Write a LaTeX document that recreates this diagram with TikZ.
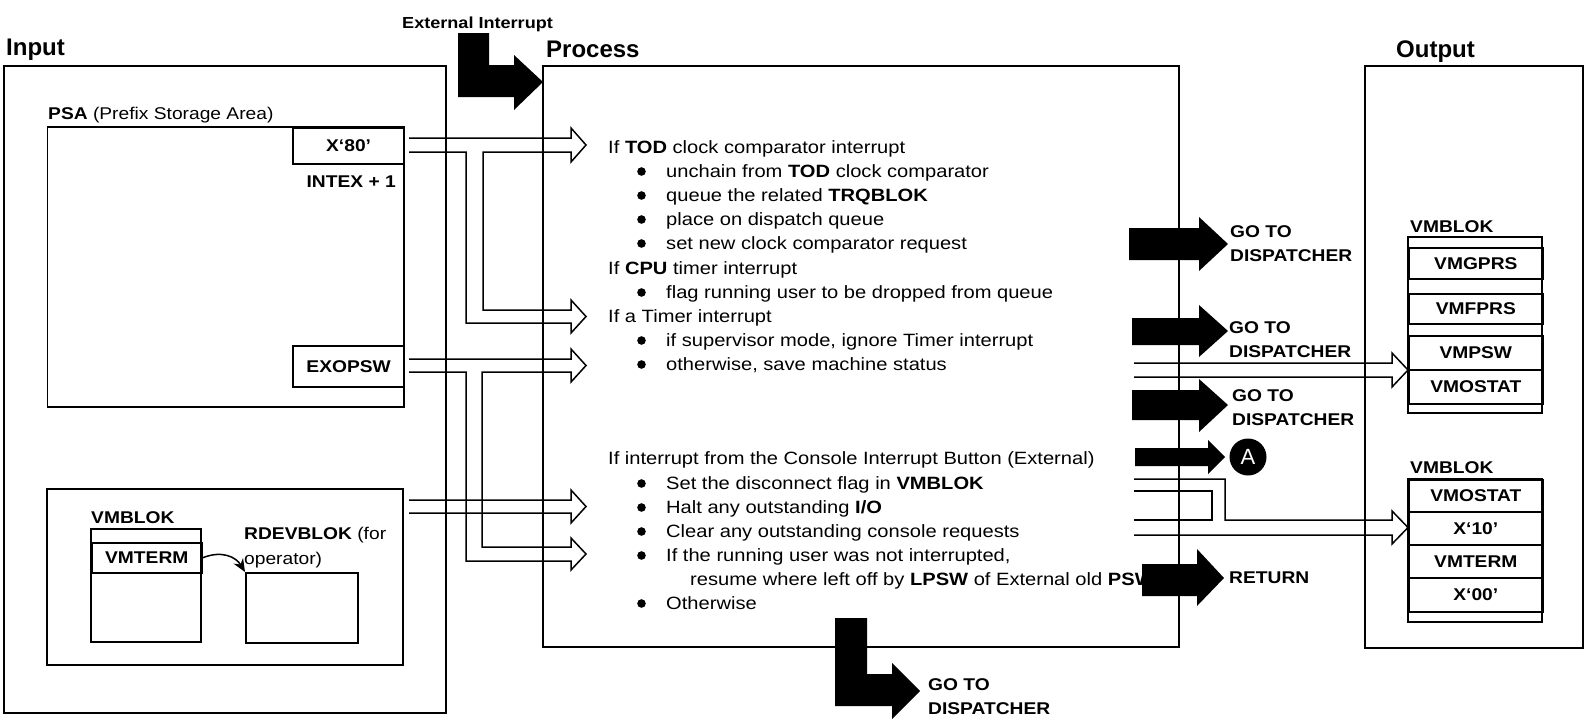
\documentclass[tikz,border=0pt]{standalone}
\usepackage{fontspec}
\setmainfont{Liberation Sans}
\newfontfamily\procfont{Liberation Sans}[FakeStretch=1.13]
\usetikzlibrary{arrows.meta}
\newcommand{\txtfont}{\procfont\fontsize{17.8}{24}\selectfont}
\newcommand{\lblfont}{\procfont\fontsize{17}{24}\selectfont}
\newcommand{\ttlfont}{\fontsize{24}{26}\selectfont\bfseries}

\begin{document}
\begin{tikzpicture}[
    x=1pt, y=-1pt,
    % Box Styles
    boxline/.style={draw, line width=1.8pt},
    cell/.style={rectangle, draw, line width=1.6pt, anchor=north west, inner sep=0pt, font=\lblfont\bfseries},
    heading/.style={anchor=base west, inner sep=0pt, font=\ttlfont},
    proc/.style={anchor=base west, inner sep=0pt, font=\txtfont},
    lbl/.style={anchor=west, inner sep=0pt, align=left, font=\lblfont\bfseries},
    % Arrow Styles
    hollow/.style={draw, line width=1.5pt, line join=miter},
    blackarrow/.style={fill=black},
    ptr/.style={line width=1.5pt, -{Stealth[length=13pt,width=11pt]}}
]
    \useasboundingbox (0,0) rectangle (1588,720);

    % =========================================================================
    % HEADINGS
    % =========================================================================
    \node[heading] (intitle)   at (6,55)    {Input};
    \node[heading] (proctitle) at (546,57)  {Process};
    \node[heading] (outtitle)  at (1396,57) {Output};
    \node[anchor=base west, inner sep=0pt, font=\procfont\fontsize{16}{18}\selectfont\bfseries] (extint) at (402,28) {External Interrupt};

    % =========================================================================
    % CONTAINERS
    % =========================================================================
    \draw[boxline] (3.6,66) rectangle (446,713);
    \draw[boxline] (543,66) rectangle (1179,647);
    \draw[boxline] (1365,66) rectangle (1583,648);

    % =========================================================================
    % 1. INPUT: PSA AND VMBLOK
    % =========================================================================
    \node[proc, font=\lblfont] (psalbl) at (48,119) {\textbf{PSA} (Prefix Storage Area)};
    \draw[boxline] (47.5,127) rectangle (403.6,407);
    \node (x80)    [cell, minimum width=111.6, minimum height=36] at (292,127) {X‘80’};
    \node (intex)  [anchor=east, inner sep=0pt, font=\lblfont\bfseries] at (396,182) {INTEX + 1};
    \node (exopsw) [cell, minimum width=111.6, minimum height=41] at (292,345) {EXOPSW};

    \draw[boxline] (47,489) rectangle (403,665);
    \node (vmblokin) [proc, font=\lblfont\bfseries] at (91,523) {VMBLOK};
    \draw[boxline] (91,529) rectangle (201,642);
    \node (vmterm) [cell, minimum width=110, minimum height=30] at (91,542) {VMTERM};
    \node (rdevlbl) [proc, font=\lblfont] at (244,539) {\textbf{RDEVBLOK} (for};
    \node (oplbl)   [proc, font=\lblfont] at (244,564) {operator)};
    \node (rdevblok) [draw, line width=1.8pt, anchor=north west, inner sep=0pt, minimum width=112, minimum height=70] at (245,572) {};
    \draw[ptr] (vmterm.east) .. controls (222,550) and (236,557) .. (rdevblok.north west);

    % =========================================================================
    % 2. HOLLOW ARROWS INTO PROCESS
    % =========================================================================
    \draw[hollow] (409,138) -- (571,138) -- (571,128) -- (586,145) -- (571,162) -- (571,152)
      -- (483,152) -- (483,310) -- (571,310) -- (571,300) -- (586,316.5) -- (571,333) -- (571,323)
      -- (466,323) -- (466,152) -- (409,152);
    \draw[hollow] (409,359) -- (571,359) -- (571,349) -- (586,365.5) -- (571,382) -- (571,372)
      -- (482,372) -- (482,547) -- (571,547) -- (571,538) -- (586,554) -- (571,570) -- (571,561)
      -- (466,561) -- (466,372) -- (409,372);
    \draw[hollow] (409,500) -- (571,500) -- (571,490) -- (586,506.5) -- (571,523) -- (571,513) -- (409,513);

    % External interrupt entry
    \fill[blackarrow] (458,33) -- (489,33) -- (489,65) -- (514,65) -- (514,55) -- (543,82)
      -- (514,110) -- (514,97) -- (458,97) -- cycle;

    % =========================================================================
    % 3. PROCESS TEXT
    % =========================================================================
    \node[proc] (tod)      at (608,153) {If \textbf{TOD} clock comparator interrupt};
    \node[proc] (unchain)  at (666,177) {unchain from \textbf{TOD} clock comparator};
    \node[proc] (queue)    at (666,201) {queue the related \textbf{TRQBLOK}};
    \node[proc] (place)    at (666,225) {place on dispatch queue};
    \node[proc] (setnew)   at (666,249) {set new clock comparator request};
    \node[proc] (cpu)      at (608,274) {If \textbf{CPU} timer interrupt};
    \node[proc] (flag)     at (666,298) {flag running user to be dropped from queue};
    \node[proc] (timer)    at (608,322) {If a Timer interrupt};
    \node[proc] (superv)   at (666,346) {if supervisor mode, ignore Timer interrupt};
    \node[proc] (other)    at (666,370) {otherwise, save machine status};

    \node[proc] (console)  at (608,464) {If interrupt from the Console Interrupt Button (External)};
    \node[proc] (disconn)  at (666,489) {Set the disconnect flag in \textbf{VMBLOK}};
    \node[proc] (halt)     at (666,513) {Halt any outstanding \textbf{I/O}};
    \node[proc] (clear)    at (666,537) {Clear any outstanding console requests};
    \node[proc] (running)  at (666,561) {If the running user was not interrupted,};
    \node[proc] (resume)   at (690,585) {resume where left off by \textbf{LPSW} of External old \textbf{PSW}};
    \node[proc] (otherw)   at (666,609) {Otherwise};

    % bullets
    \foreach \by in {177,201,225,249,298,346,370,489,513,537,561,609}
      \fill (641.5,\by-5.5) circle (4.3);

    % Exit at the bottom
    \fill[blackarrow] (835,618) -- (867,618) -- (867,674) -- (892,674) -- (892,663) -- (920,691)
      -- (892,719) -- (892,706) -- (835,706) -- cycle;
    \node[lbl] (godisp4) at (928,697) {GO TO\\DISPATCHER};

    % =========================================================================
    % 4. EXITS ON THE RIGHT
    % =========================================================================
    \fill[blackarrow] (1129,228) -- (1199,228) -- (1199,217) -- (1228,244) -- (1199,271) -- (1199,260) -- (1129,260) -- cycle;
    \node[lbl] (godisp1) at (1230,244) {GO TO\\DISPATCHER};
    \fill[blackarrow] (1132,318) -- (1199,318) -- (1199,305) -- (1228,331) -- (1199,357) -- (1199,345) -- (1132,345) -- cycle;
    \node[lbl] (godisp2) at (1229,340) {GO TO\\DISPATCHER};
    \fill[blackarrow] (1132,390) -- (1199,390) -- (1199,379) -- (1228,405) -- (1199,432) -- (1199,420) -- (1132,420) -- cycle;
    \node[lbl] (godisp3) at (1232,407.5) {GO TO\\DISPATCHER};
    \fill[blackarrow] (1135,448) -- (1208,448) -- (1208,440) -- (1225,457) -- (1208,474) -- (1208,466) -- (1135,466) -- cycle;
    \node (conA) [circle, fill=black, text=white, minimum size=37, inner sep=0pt, font=\fontsize{22}{22}\selectfont] at (1248,457) {A};
    \fill[blackarrow] (1142,564) -- (1197,564) -- (1197,549) -- (1224,578) -- (1197,606) -- (1197,596) -- (1142,596) -- cycle;
    \node[lbl] (ret) at (1229,578) {RETURN};

    % Hollow arrows into the output
    \draw[hollow] (1134,363) -- (1392,363) -- (1392,353) -- (1408,370) -- (1392,387) -- (1392,377) -- (1134,377);
    \draw[hollow] (1134,479) -- (1225,479) -- (1225,520) -- (1392,520) -- (1392,511) -- (1408,527.5)
      -- (1392,544) -- (1392,535) -- (1134,535);
    \draw[hollow] (1134,491) -- (1212,491) -- (1212,520) -- (1134,520);

    % =========================================================================
    % 5. OUTPUT: VMBLOK FIELDS
    % =========================================================================
    \node (vmblok1) [proc, font=\lblfont\bfseries] at (1410,232) {VMBLOK};
    \draw[boxline] (1408,237) rectangle (1542,413);
    \node (vmgprs)  [cell, minimum width=134, minimum height=31] at (1408,247) {VMGPRS};
    \node (vmfprs)  [cell, minimum width=134, minimum height=30] at (1408,293) {VMFPRS};
    \node (vmpsw)   [cell, minimum width=134, minimum height=34] at (1408,335) {VMPSW};
    \node (vmostat) [cell, minimum width=134, minimum height=34] at (1408,369) {VMOSTAT};

    \node (vmblok2) [proc, font=\lblfont\bfseries] at (1410,473) {VMBLOK};
    \draw[boxline] (1408,479) rectangle (1542,622);
    \node (vmostat2) [cell, minimum width=134, minimum height=32] at (1408,479) {VMOSTAT};
    \node (x10)      [cell, minimum width=134, minimum height=33] at (1408,511) {X‘10’};
    \node (vmterm2)  [cell, minimum width=134, minimum height=33] at (1408,544) {VMTERM};
    \node (x00)      [cell, minimum width=134, minimum height=34] at (1408,577) {X‘00’};

\end{tikzpicture}
\end{document}
